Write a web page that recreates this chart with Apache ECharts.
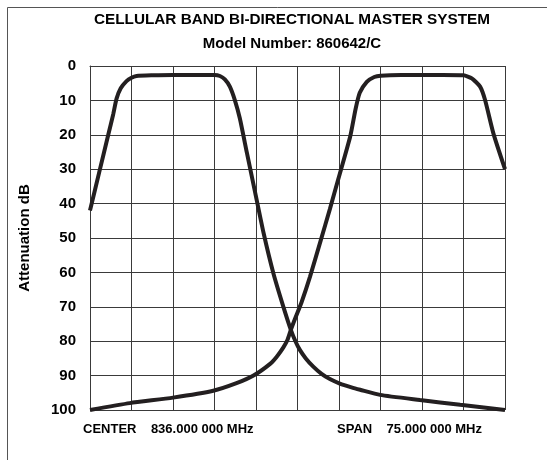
<!DOCTYPE html>
<html>
<head>
<meta charset="utf-8">
<script src="https://cdn.jsdelivr.net/npm/echarts@6/dist/echarts.min.js"></script>
<style>
  html, body { margin: 0; padding: 0; background: #fff; }
  #chart { width: 547px; height: 460px; }
</style>
</head>
<body>
<div id="chart"></div>
<script>
// x = screen divisions (0..10), y = attenuation in dB
var yTicks = [0, 10, 20, 30, 40, 50, 60, 70, 80, 90, 100];

var lowBand = [
  [0, 42], [0.22, 31], [0.44, 20], [0.56, 14], [0.64, 9.5], [0.74, 6.5], [0.88, 4.4],
  [1.0, 3.4], [1.12, 2.9], [1.5, 2.7], [2, 2.6], [2.5, 2.6], [3.0, 2.6],
  [3.13, 2.9], [3.25, 3.9], [3.37, 6], [3.49, 9.9], [3.61, 15.2], [3.78, 25.2],
  [3.98, 36.8], [4.18, 48.4], [4.42, 60.3], [4.66, 70], [4.84, 76.7], [4.95, 80],
  [5.06, 82.6], [5.2, 85], [5.38, 87.4], [5.58, 89.5], [5.78, 91], [6.02, 92.3],
  [6.3, 93.4], [6.51, 94.1], [6.99, 95.6], [7.95, 97.1], [8.92, 98.5], [10, 100]
];

var highBand = [
  [0, 100], [0.96, 98], [2.0, 96.4], [2.97, 94.4], [3.53, 92.2], [3.94, 90],
  [4.34, 86.6], [4.5, 84.5], [4.66, 81.8], [4.76, 79.6], [4.84, 76.7], [4.95, 73.2],
  [5.1, 68.6], [5.3, 61.3], [5.56, 50.7], [5.78, 41.6], [5.98, 33.0], [6.27, 20.5],
  [6.4, 12.5], [6.5, 7.8], [6.67, 4.6], [6.85, 3.2], [7.0, 2.8], [7.5, 2.6],
  [8.5, 2.6], [9.0, 2.7], [9.2, 3.6], [9.4, 6], [9.52, 9.9], [9.72, 19.6], [10, 30]
];

var chart = echarts.init(document.getElementById('chart'));

var font = 'Liberation Sans, Arial, sans-serif';
var gridColor = '#3a3a3a';

var option = {
  animation: false,
  backgroundColor: '#fff',
  grid: { left: 90, top: 66, width: 415, height: 344 },
  xAxis: {
    type: 'value', min: 0, max: 10, interval: 1,
    axisLabel: { show: false },
    axisTick: { show: false },
    axisLine: { show: true, lineStyle: { color: gridColor, width: 1 } },
    splitLine: { show: true, lineStyle: { color: gridColor, width: 1 } }
  },
  yAxis: {
    type: 'value', inverse: true, min: 0, max: 100, interval: 10,
    name: 'Attenuation dB', nameLocation: 'middle', nameGap: 58, nameRotate: 90,
    nameTextStyle: { fontFamily: font, fontWeight: 'bold', fontSize: 15, color: '#000' },
    axisLabel: {
      margin: 14, padding: [0, 0, 9, 0],
      fontFamily: font, fontWeight: 'bold', fontSize: 15, color: '#000',
      formatter: function (v) { return yTicks.indexOf(v) >= 0 ? String(v) : ''; }
    },
    axisTick: { show: false },
    axisLine: { show: true, lineStyle: { color: gridColor, width: 1 } },
    splitLine: { show: true, lineStyle: { color: gridColor, width: 1 } }
  },
  graphic: [
    { type: 'line', shape: { x1: 7.5, y1: 7.5, x2: 7.5, y2: 460 }, style: { stroke: '#555', lineWidth: 1 } },
    { type: 'line', shape: { x1: 7.5, y1: 7.5, x2: 547, y2: 7.5 }, style: { stroke: '#555', lineWidth: 1 } },
    { type: 'text', x: 292, y: 20,
      style: { text: 'CELLULAR BAND BI-DIRECTIONAL MASTER SYSTEM', font: 'bold 15.3px ' + font,
        fill: '#000', align: 'center', verticalAlign: 'middle' } },
    { type: 'text', x: 292, y: 44,
      style: { text: 'Model Number: 860642/C', font: 'bold 15px ' + font,
        fill: '#000', align: 'center', verticalAlign: 'middle' } },
    { type: 'text', left: 83, top: 423,
      style: { text: 'CENTER    836.000 000 MHz', font: 'bold 13px ' + font, fill: '#000' } },
    { type: 'text', right: 65, top: 423,
      style: { text: 'SPAN    75.000 000 MHz', font: 'bold 13px ' + font, fill: '#000' } }
  ],
  series: [{
    type: 'line', data: lowBand, smooth: 0.2, showSymbol: false,
    lineStyle: { color: '#231f20', width: 4 }
  }, {
    type: 'line', data: highBand, smooth: 0.2, showSymbol: false,
    lineStyle: { color: '#231f20', width: 4 }
  }]
};

chart.setOption(option);
</script>
</body>
</html>
